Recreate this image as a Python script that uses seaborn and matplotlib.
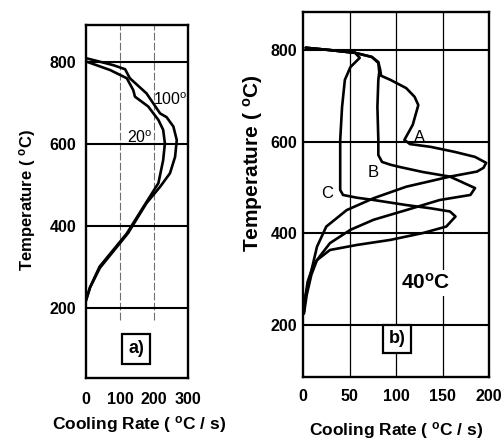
import matplotlib
matplotlib.use("Agg")
import matplotlib.pyplot as plt
import pandas as pd
import seaborn as sns

# ---------------- data: panel a) ----------------
a_20_rate = [0, 71, 120, 139, 144, 183, 213, 227, 232, 227, 213, 169, 120, 40, 12, 0]
a_20_temp = [801, 780, 760, 731, 715, 691, 658, 634, 601, 560, 504, 446, 381, 300, 250, 218]
a_100_rate = [0, 80, 115, 129, 178, 218, 237, 257, 267, 262, 247, 218, 178, 135, 124, 41, 12, 0]
a_100_temp = [809, 792, 782, 760, 723, 674, 665, 642, 609, 568, 528, 495, 455, 397, 382, 297, 249, 217]
a_xticks = [0, 100, 200, 300]
a_yticks = [200, 400, 600, 800]
a_vgrid = [100, 200]

# ---------------- data: panel b) ----------------
b_A_rate = [3, 29, 56, 74, 81, 83, 84, 94, 111, 120, 124, 118, 112, 109, 115, 137, 163, 185, 197,
            194, 187, 158, 111, 76, 47, 25, 15, 8, 3, 1]
b_A_temp = [805, 800, 794, 785, 774, 757, 744, 735, 717, 698, 680, 637, 615, 604, 595, 589, 578, 567, 554,
            543, 535, 524, 502, 477, 451, 415, 371, 310, 266, 234]
b_B_rate = [3, 29, 56, 74, 81, 82, 81, 80, 81, 81, 85, 94, 104, 129, 158, 185,
            180, 147, 111, 76, 51, 29, 18, 11, 5, 2, 1]
b_B_temp = [805, 800, 794, 785, 772, 752, 735, 676, 604, 571, 556, 550, 545, 534, 524, 499,
            484, 473, 451, 430, 408, 379, 350, 330, 295, 255, 229]
b_C_rate = [3, 29, 56, 61, 51, 45, 42, 40, 40, 43, 58, 76, 111, 137, 158, 164,
            154, 129, 94, 58, 29, 15, 9, 4, 1]
b_C_temp = [805, 800, 794, 783, 763, 735, 676, 604, 495, 484, 478, 473, 462, 455, 448, 437,
            415, 401, 386, 375, 364, 342, 310, 266, 225]
b_xticks = [0, 50, 100, 150, 200]
b_yticks = [200, 400, 600, 800]
b_vgrid = [50, 100, 150]

# ---------------- style ----------------
sns.set_style("white")
plt.rcParams["font.family"] = ["Liberation Sans", "DejaVu Sans"]
plt.rcParams["mathtext.fontset"] = "custom"
plt.rcParams["mathtext.rm"] = "Liberation Sans"
plt.rcParams["mathtext.bf"] = "Liberation Sans:bold"
plt.rcParams["mathtext.it"] = "Liberation Sans:italic"
for k in ["text.color", "axes.labelcolor", "xtick.color", "ytick.color"]:
    plt.rcParams[k] = "black"

fig = plt.figure(figsize=(5.02, 4.40), dpi=100)
axa = fig.add_axes([0.1713, 0.1409, 0.2032, 0.8023])
axb = fig.add_axes([0.6036, 0.1432, 0.3705, 0.8295])

df_a = pd.DataFrame({
    "rate": a_20_rate + a_100_rate,
    "temp": a_20_temp + a_100_temp,
    "curve": ["20"] * len(a_20_rate) + ["100"] * len(a_100_rate),
})
df_b = pd.DataFrame({
    "rate": b_A_rate + b_B_rate + b_C_rate,
    "temp": b_A_temp + b_B_temp + b_C_temp,
    "curve": ["A"] * len(b_A_rate) + ["B"] * len(b_B_rate) + ["C"] * len(b_C_rate),
})

for ax, df, xt, yt, vg, xl, yl in [
    (axa, df_a, a_xticks, a_yticks, a_vgrid, (0, 300), (28, 890)),
    (axb, df_b, b_xticks, b_yticks, b_vgrid, (0, 200), (87, 883)),
]:
    sns.lineplot(data=df, x="rate", y="temp", units="curve", estimator=None, sort=False,
                 color="black", lw=1.9, ax=ax, zorder=3)
    ax.set_xlim(*xl)
    ax.set_ylim(*yl)
    ax.set_xticks(xt)
    ax.set_yticks(yt)
    ax.hlines(yt, xl[0], xl[1], colors="black", lw=1.5, zorder=2)
    for s in ax.spines.values():
        s.set_linewidth(1.7)
        s.set_color("black")
    ax.tick_params(length=0, labelsize=11.5, colors="black")
    for lab in ax.get_xticklabels() + ax.get_yticklabels():
        lab.set_fontweight("bold")
    ax.set_xlabel("")
    ax.set_ylabel("")

axa.vlines(a_vgrid, 170, 890, colors="#707070", lw=0.8, linestyles=(0, (7, 2)), zorder=1)
axb.vlines(b_vgrid, 87, 883, colors="black", lw=0.9, zorder=1)

axa.tick_params(axis="x", pad=10)
axa.tick_params(axis="y", pad=7)
axb.tick_params(axis="x", pad=9)
axb.tick_params(axis="y", pad=4)

# axis labels
axa.set_xlabel(r"Cooling Rate ( $^{\mathbf{o}}$C / s)", fontsize=12.5, fontweight="bold")
axa.xaxis.set_label_coords(0.52, -0.133)
axa.xaxis.label.set_va("center")
axb.set_xlabel(r"Cooling Rate ( $^{\mathbf{o}}$C / s)", fontsize=12.5, fontweight="bold")
axb.xaxis.set_label_coords(0.5, -0.146)
axb.xaxis.label.set_va("center")

axa.set_ylabel(r"Temperature ( $^{\mathbf{o}}$C)", fontsize=12, fontweight="bold")
axa.yaxis.set_label_coords(-0.578, 0.504)
axa.yaxis.label.set_va("center")
axb.set_ylabel(r"Temperature ( $^{\mathbf{o}}$C)", fontsize=15, fontweight="bold")
axb.yaxis.set_label_coords(-0.269, 0.586)
axb.yaxis.label.set_va("center")

# annotations panel a
axa.text(198, 707, r"100$^{\mathrm{o}}$", fontsize=11.5, ha="left", va="center", zorder=4)
axa.text(120, 614, r"20$^{\mathrm{o}}$", fontsize=11.5, ha="left", va="center", zorder=4)
axa.text(147, 99, "a)", fontsize=13, fontweight="bold", ha="center", va="center", zorder=4,
         bbox=dict(boxstyle="square,pad=0.35", fc="white", ec="black", lw=1.6))

# annotations panel b
axb.text(125, 610, "A", fontsize=12, ha="center", va="center", zorder=4)
axb.text(76, 534, "B", fontsize=12, ha="center", va="center", zorder=4)
axb.text(26, 488, "C", fontsize=12, ha="center", va="center", zorder=4)
axb.text(132, 292, r"40$^{\mathbf{o}}$C", fontsize=15, fontweight="bold", ha="center", va="center",
         zorder=4, bbox=dict(boxstyle="square,pad=0.15", fc="white", ec="none"))
axb.text(101, 170, "b)", fontsize=13, fontweight="bold", ha="center", va="center", zorder=4,
         bbox=dict(boxstyle="square,pad=0.3", fc="white", ec="black", lw=1.6))

fig.savefig("out.png", dpi=100, facecolor="white")
